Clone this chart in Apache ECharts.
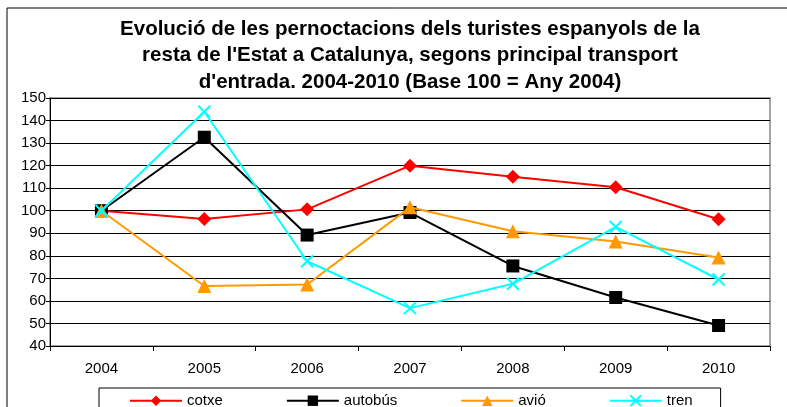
<!DOCTYPE html>
<html lang="ca">
<head>
    <meta charset="UTF-8" />
    <title>Pernoctacions turistes espanyols</title>
    <script src="https://cdn.jsdelivr.net/npm/echarts@6/dist/echarts.min.js"></script>
</head>
<body style="margin: 0; background: #fff">
    <div id="main" style="width: 787px; height: 407px"></div>
    <script>
        var years = ["2004", "2005", "2006", "2007", "2008", "2009", "2010"];
        var cotxe = [100, 96.3, 100.6, 120, 115.1, 110.4, 96.2];
        var autobus = [100, 132.6, 89.2, 99.2, 75.5, 61.5, 49.1];
        var avio = [100, 66.6, 67.3, 101.5, 90.9, 86.4, 79.3];
        var tren = [100, 143.9, 77.6, 56.8, 67.6, 92.8, 69.5];

        // creu del tren (es dibuixa amb el contorn)
        var crossPath = "path://M0,0L10,10M10,0L0,10";
        var font = "Liberation Sans, Arial, sans-serif";

        var mCharts = echarts.init(document.getElementById("main"));
        var option = {
            animation: false,
            title: {
                text: "Evolució de les pernoctacions dels turistes espanyols de la\nresta de l'Estat a Catalunya, segons principal transport\nd'entrada. 2004-2010 (Base 100 = Any 2004)",
                left: 405,
                textAlign: "center",
                top: 11,
                textStyle: {
                    fontFamily: font,
                    fontSize: 20.5,
                    fontWeight: "bold",
                    color: "#000",
                    lineHeight: 26.5,
                },
            },
            graphic: [
                {
                    type: "rect",
                    shape: { x: 7, y: 8, width: 800, height: 420 },
                    style: { fill: "none", stroke: "#000", lineWidth: 1 },
                    silent: true,
                },
            ],
            grid: {
                left: 50,
                right: 17,
                top: 98,
                bottom: 61,
                show: true,
                borderColor: "#888",
                borderWidth: 1.5,
            },
            legend: {
                data: ["cotxe", "autobús", "avió", "tren"],
                left: 99,
                top: 388,
                padding: [5, 28, 8, 30],
                itemWidth: 52,
                itemHeight: 13,
                itemGap: 63,
                borderColor: "#000",
                borderWidth: 1,
                textStyle: { fontFamily: font, fontSize: 15, color: "#000" },
            },
            xAxis: {
                type: "category",
                data: years,
                boundaryGap: true,
                axisLine: { lineStyle: { color: "#000", width: 1 } },
                axisTick: { show: true, alignWithLabel: false, length: 5, lineStyle: { color: "#000" } },
                axisLabel: { fontFamily: font, fontSize: 15, color: "#000", margin: 15 },
            },
            yAxis: {
                type: "value",
                min: 40,
                max: 150,
                interval: 10,
                axisLine: { show: true, lineStyle: { color: "#000", width: 1 } },
                axisTick: { show: true, length: 4, lineStyle: { color: "#000" } },
                axisLabel: { fontFamily: font, fontSize: 15, color: "#000", margin: 4 },
                splitLine: { lineStyle: { color: "#000", width: 1 } },
            },
            series: [
                {
                    name: "cotxe",
                    type: "line",
                    data: cotxe,
                    symbol: "diamond",
                    symbolSize: 14,
                    lineStyle: { color: "#ff0000", width: 2 },
                    itemStyle: { color: "#ff0000" },
                    z: 2,
                },
                {
                    name: "autobús",
                    type: "line",
                    data: autobus,
                    symbol: "rect",
                    symbolSize: 13,
                    lineStyle: { color: "#000000", width: 2 },
                    itemStyle: { color: "#000000" },
                    z: 3,
                },
                {
                    name: "avió",
                    type: "line",
                    data: avio,
                    symbol: "triangle",
                    symbolSize: 14,
                    lineStyle: { color: "#ff9900", width: 2 },
                    itemStyle: { color: "#ff9900" },
                    z: 4,
                },
                {
                    name: "tren",
                    type: "line",
                    data: tren,
                    symbol: crossPath,
                    symbolSize: 12,
                    lineStyle: { color: "#00ffff", width: 2 },
                    itemStyle: { color: "none", borderColor: "#00ffff", borderWidth: 2 },
                    z: 5,
                },
            ],
        };
        mCharts.setOption(option);
    </script>
</body>
</html>
